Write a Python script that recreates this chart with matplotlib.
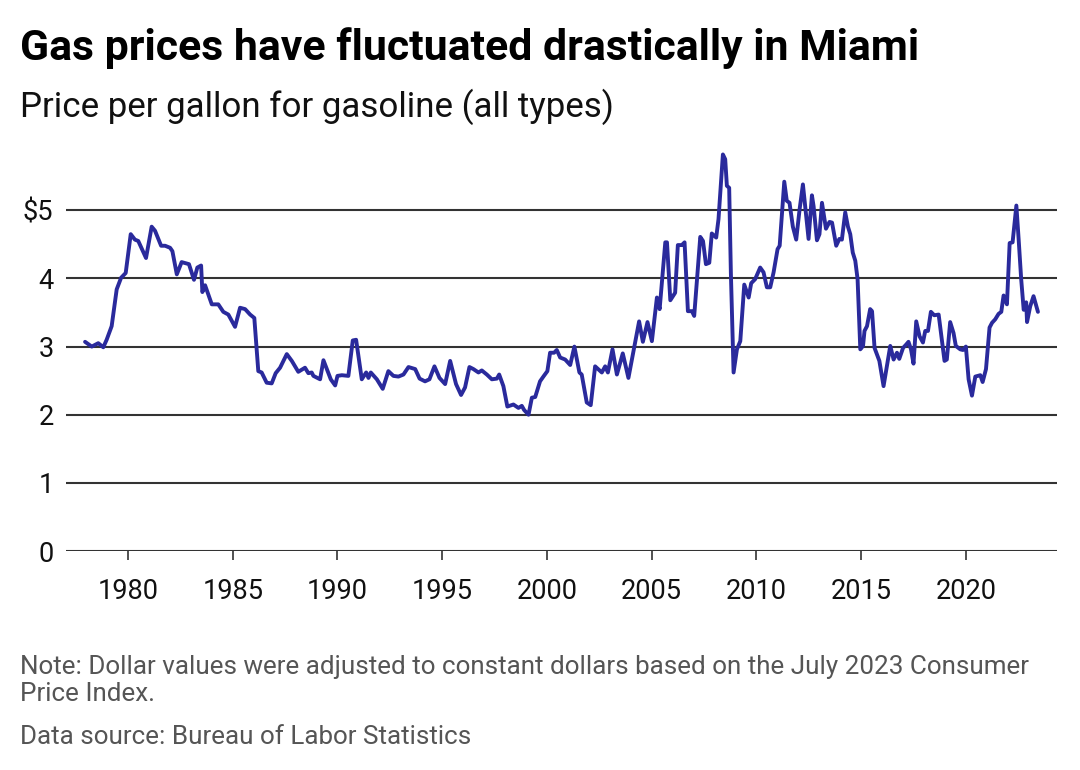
import matplotlib
matplotlib.use("Agg")
import matplotlib.pyplot as plt

plt.rcParams['font.family'] = ['Roboto', 'DejaVu Sans']

# Monthly-ish readings of price per gallon (July 2023 dollars)
years = [
    1977.95, 1978.27, 1978.58, 1978.82, 1978.98, 1979.22, 1979.46, 1979.67, 1979.89,
    1980.13, 1980.33, 1980.49, 1980.86, 1981.13, 1981.29, 1981.58, 1981.77, 1982.01,
    1982.12, 1982.33, 1982.56, 1982.91, 1983.15, 1983.31, 1983.49, 1983.55, 1983.68,
    1984.00, 1984.31, 1984.55, 1984.79, 1985.11, 1985.35, 1985.59, 1985.83, 1986.03,
    1986.22, 1986.38, 1986.62, 1986.86, 1987.05, 1987.26, 1987.58, 1987.82, 1988.13,
    1988.45, 1988.61, 1988.77, 1988.85, 1989.17, 1989.33, 1989.49, 1989.68, 1989.89,
    1990.00, 1990.21, 1990.52, 1990.73, 1990.89, 1991.16, 1991.37, 1991.48, 1991.59,
    1991.88, 1992.16, 1992.43, 1992.67, 1992.91, 1993.15, 1993.39, 1993.71, 1993.92,
    1994.18, 1994.39, 1994.63, 1994.87, 1995.14, 1995.38, 1995.66, 1995.90, 1996.09,
    1996.30, 1996.49, 1996.73, 1996.89, 1997.13, 1997.37, 1997.61, 1997.72, 1997.92,
    1998.11, 1998.40, 1998.64, 1998.80, 1998.91, 1999.12, 1999.28, 1999.44, 1999.67,
    1999.83, 2000.02, 2000.15, 2000.34, 2000.47, 2000.63, 2000.87, 2001.11, 2001.31,
    2001.55, 2001.66, 2001.90, 2002.09, 2002.30, 2002.62, 2002.78, 2002.91, 2003.13,
    2003.34, 2003.62, 2003.89, 2004.16, 2004.40, 2004.58, 2004.80, 2005.01, 2005.25,
    2005.38, 2005.65, 2005.73, 2005.89, 2006.12, 2006.25, 2006.44, 2006.57, 2006.73,
    2006.92, 2007.03, 2007.32, 2007.45, 2007.59, 2007.75, 2007.87, 2008.08, 2008.19,
    2008.40, 2008.51, 2008.59, 2008.70, 2008.78, 2008.91, 2009.07, 2009.23, 2009.42,
    2009.63, 2009.75, 2009.94, 2010.18, 2010.34, 2010.50, 2010.66, 2010.82, 2011.01,
    2011.11, 2011.33, 2011.45, 2011.58, 2011.74, 2011.90, 2012.06, 2012.22, 2012.33,
    2012.49, 2012.65, 2012.73, 2012.89, 2013.01, 2013.13, 2013.32, 2013.49, 2013.61,
    2013.81, 2013.96, 2014.08, 2014.24, 2014.37, 2014.48, 2014.60, 2014.72, 2014.83,
    2014.96, 2015.09, 2015.16, 2015.28, 2015.43, 2015.52, 2015.64, 2015.87, 2016.07,
    2016.39, 2016.55, 2016.71, 2016.82, 2017.00, 2017.15, 2017.26, 2017.38, 2017.50,
    2017.63, 2017.79, 2017.95, 2018.06, 2018.19, 2018.33, 2018.49, 2018.70, 2018.83,
    2018.98, 2019.09, 2019.25, 2019.41, 2019.52, 2019.73, 2019.86, 2020.00, 2020.13,
    2020.29, 2020.45, 2020.69, 2020.80, 2020.96, 2021.13, 2021.25, 2021.40, 2021.56,
    2021.69, 2021.80, 2021.96, 2022.09, 2022.23, 2022.41, 2022.52, 2022.64, 2022.76,
    2022.88, 2022.92, 2023.07, 2023.23, 2023.44,
]
prices = [
    3.07, 3.00, 3.05, 2.99, 3.10, 3.30, 3.84, 4.01, 4.08,
    4.65, 4.57, 4.55, 4.30, 4.76, 4.70, 4.48, 4.48, 4.45,
    4.40, 4.06, 4.24, 4.21, 3.98, 4.16, 4.19, 3.80, 3.90,
    3.62, 3.62, 3.51, 3.47, 3.29, 3.57, 3.55, 3.47, 3.42,
    2.64, 2.62, 2.47, 2.46, 2.61, 2.69, 2.89, 2.79, 2.63,
    2.69, 2.61, 2.62, 2.57, 2.52, 2.80, 2.67, 2.52, 2.43,
    2.57, 2.58, 2.57, 3.09, 3.10, 2.52, 2.62, 2.54, 2.62,
    2.52, 2.38, 2.64, 2.57, 2.56, 2.59, 2.70, 2.67, 2.53,
    2.49, 2.52, 2.71, 2.54, 2.45, 2.79, 2.45, 2.29, 2.40,
    2.70, 2.67, 2.62, 2.65, 2.59, 2.52, 2.53, 2.59, 2.42,
    2.12, 2.15, 2.10, 2.13, 2.07, 2.00, 2.25, 2.26, 2.49,
    2.56, 2.64, 2.91, 2.91, 2.95, 2.84, 2.81, 2.73, 3.00,
    2.62, 2.59, 2.18, 2.14, 2.71, 2.62, 2.71, 2.62, 2.96,
    2.59, 2.90, 2.54, 2.98, 3.37, 3.07, 3.36, 3.08, 3.72,
    3.55, 4.53, 4.53, 3.68, 3.79, 4.49, 4.49, 4.53, 3.52,
    3.52, 3.45, 4.61, 4.55, 4.21, 4.23, 4.66, 4.60, 4.87,
    5.82, 5.75, 5.36, 5.33, 4.09, 2.62, 2.96, 3.08, 3.91,
    3.72, 3.93, 3.99, 4.16, 4.09, 3.87, 3.87, 4.09, 4.43,
    4.48, 5.42, 5.14, 5.11, 4.76, 4.57, 5.01, 5.38, 5.06,
    4.58, 5.22, 5.06, 4.56, 4.65, 5.11, 4.73, 4.83, 4.82,
    4.48, 4.58, 4.57, 4.97, 4.76, 4.65, 4.38, 4.26, 3.99,
    2.96, 3.01, 3.23, 3.30, 3.55, 3.52, 2.98, 2.79, 2.42,
    3.01, 2.81, 2.91, 2.82, 2.98, 3.03, 3.07, 2.96, 2.75,
    3.37, 3.15, 3.06, 3.23, 3.23, 3.51, 3.46, 3.47, 3.15,
    2.79, 2.81, 3.36, 3.20, 3.01, 2.96, 2.95, 3.00, 2.52,
    2.28, 2.56, 2.58, 2.48, 2.67, 3.28, 3.35, 3.40, 3.48,
    3.51, 3.75, 3.62, 4.52, 4.53, 5.07, 4.57, 3.99, 3.54,
    3.65, 3.36, 3.59, 3.74, 3.51,
]

x_ticks = [1980, 1985, 1990, 1995, 2000, 2005, 2010, 2015, 2020]
y_ticks = [0, 1, 2, 3, 4, 5]
y_tick_labels = ['0', '1', '2', '3', '4', '$5']

title = "Gas prices have fluctuated drastically in Miami"
subtitle = "Price per gallon for gasoline (all types)"
note_lines = ["Note: Dollar values were adjusted to constant dollars based on the July 2023 Consumer",
              "Price Index."]
source = "Data source: Bureau of Labor Statistics"

W, H = 1080, 770
fig = plt.figure(figsize=(W / 100, H / 100), dpi=100)
ax_left, ax_right = 66 / W, 1057 / W
ax_bottom = 1 - 551 / H
ax_top = 1 - 149 / H
ax = fig.add_axes([ax_left, ax_bottom, ax_right - ax_left, ax_top - ax_bottom])

ax.set_xlim(1977.04, 2024.35)
ax.set_ylim(0, 5.9)

for v in y_ticks:
    ax.axhline(v, color='#333333', linewidth=1.5, zorder=1)

ax.plot(years, prices, color='#2a2a9c', linewidth=2.8, zorder=3,
        solid_joinstyle='round', solid_capstyle='round', clip_on=False)

for s in ax.spines.values():
    s.set_visible(False)

ax.set_xticks(x_ticks)
ax.set_xticklabels([str(t) for t in x_ticks])
ax.set_yticks(y_ticks)
ax.set_yticklabels(y_tick_labels)
ax.tick_params(axis='x', length=6.5, width=1.2, color='#333333', pad=13,
               labelsize=19.5, labelcolor='#111111')
ax.tick_params(axis='y', length=0, pad=9, labelsize=19.5, labelcolor='#111111')

fig.text(20 / W, 1 - 60 / H, title, fontsize=30.8, fontweight='bold',
         color='#000000', ha='left', va='baseline')
fig.text(20 / W, 1 - 117 / H, subtitle, fontsize=25.1, color='#111111',
         ha='left', va='baseline')
fig.text(20 / W, 1 - 674 / H, note_lines[0], fontsize=18.75, color='#555555',
         ha='left', va='baseline')
fig.text(20 / W, 1 - 701 / H, note_lines[1], fontsize=18.75, color='#555555',
         ha='left', va='baseline')
fig.text(20 / W, 1 - 744 / H, source, fontsize=18.75, color='#555555',
         ha='left', va='baseline')

fig.savefig('out.png', dpi=100)
